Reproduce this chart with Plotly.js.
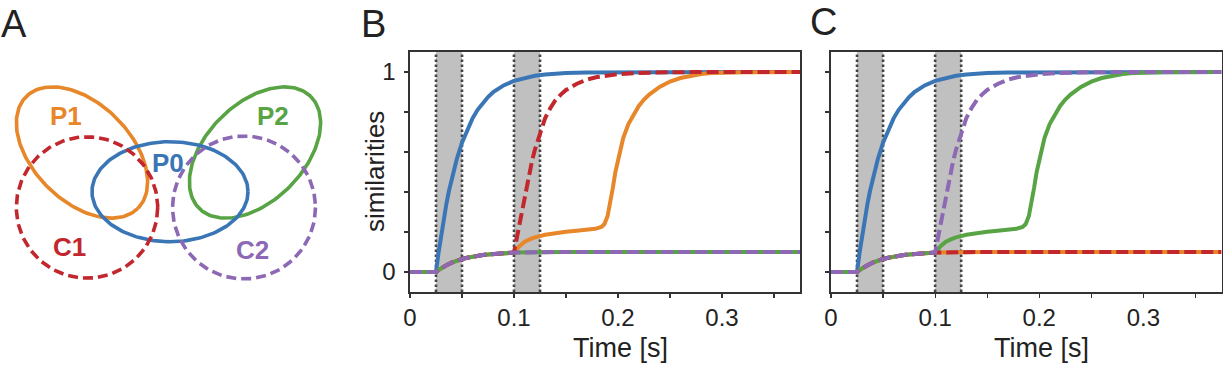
<!DOCTYPE html>
<html>
<head>
<meta charset="utf-8">
<script src="https://cdn.plot.ly/plotly-3.0.1.min.js"></script>
<style>html,body{margin:0;padding:0;background:#fff;}#chart{width:1226px;height:370px;}</style>
</head>
<body>
<div id="chart"></div>
<script>
// ---- data ----
const T_BLUE = [0,0.025,0.0275,0.03,0.0325,0.035,0.0375,0.04,0.045,0.05,0.055,0.06,0.065,0.07,0.075,0.08,0.09,0.1,0.11,0.12,0.13,0.14,0.15,0.17,0.2,0.25,0.375];
const V_BLUE = [0,0,0.099,0.188,0.268,0.341,0.406,0.465,0.565,0.647,0.713,0.767,0.811,0.847,0.875,0.899,0.933,0.956,0.971,0.981,0.987,0.992,0.995,0.998,0.999,1,1];

const T_BASE = [0,0.025,0.0275,0.03,0.035,0.04,0.045,0.05,0.055,0.06,0.065,0.07,0.075,0.08,0.09,0.1,0.12,0.15,0.375];
const V_BASE = [0,0,0.010,0.019,0.034,0.047,0.057,0.065,0.071,0.077,0.081,0.085,0.088,0.090,0.094,0.097,0.099,0.1,0.1];

const T_FAST = [0.1,0.1025,0.105,0.1075,0.11,0.1125,0.115,0.1175,0.12,0.125,0.13,0.135,0.14,0.145,0.15,0.16,0.17,0.18,0.19,0.2,0.22,0.25,0.3,0.375];
const V_FAST = [0.097,0.165,0.235,0.305,0.37,0.44,0.505,0.56,0.61,0.695,0.77,0.82,0.86,0.887,0.91,0.94,0.962,0.975,0.983,0.989,0.995,0.999,1,1];

const T_SLOW = [0.1,0.105,0.11,0.115,0.12,0.13,0.14,0.15,0.16,0.17,0.178,0.184,0.187,0.19,0.1925,0.195,0.1975,0.2,0.2025,0.205,0.21,0.215,0.22,0.225,0.23,0.24,0.25,0.26,0.27,0.28,0.29,0.3,0.32,0.375];
const V_SLOW = [0.097,0.128,0.15,0.163,0.173,0.186,0.195,0.201,0.206,0.211,0.216,0.225,0.24,0.28,0.34,0.42,0.5,0.565,0.62,0.67,0.74,0.79,0.83,0.862,0.887,0.925,0.952,0.97,0.982,0.99,0.995,0.997,0.999,1];

const STIM_WINDOWS = [[0.025,0.05],[0.1,0.125]];
const X_TICKS = [0,0.05,0.1,0.15,0.2,0.25,0.3,0.35];
const X_TICKTEXT = ['0','','0.1','','0.2','','0.3',''];
const Y_TICKS = [0,0.2,0.4,0.6,0.8,1];
const Y_TICKTEXT = ['0','','','','','1'];

const COL = {blue:'#3a76b6', orange:'#e8862a', green:'#58a445', red:'#c1272d', purple:'#8d68b4'};

// Panel A diagram (pixel-space geometry)
const SETS = [
  {name:'P1', cx:82,  cy:152.5, rx:79, ry:48.7, ang:45,  color:COL.orange, dash:'solid', lx:66,  ly:116},
  {name:'P2', cx:255, cy:152.5, rx:79, ry:48.7, ang:-45, color:COL.green,  dash:'solid', lx:273, ly:116},
  {name:'P0', cx:170, cy:191.7, rx:78, ry:50,   ang:0,   color:COL.blue,   dash:'solid', lx:168, ly:163},
  {name:'C1', cx:87,  cy:207.5, rx:70.7, ry:70.7, ang:0, color:COL.red,    dash:'10px,5px', lx:69, ly:247},
  {name:'C2', cx:244, cy:207.5, rx:71.5, ry:71.5, ang:0, color:COL.purple, dash:'10px,5px', lx:252, ly:250}
];

// ---- build ----
function cat(t1,v1,t2,v2){ // base until 0.1 then second series
  const tx=[],vx=[];
  for(let i=0;i<t1.length;i++){ if(t1[i]<0.1){tx.push(t1[i]);vx.push(v1[i]);} }
  return {x:tx.concat(t2), y:vx.concat(v2)};
}
const FAST = cat(T_BASE,V_BASE,T_FAST,V_FAST);
const SLOW = cat(T_BASE,V_BASE,T_SLOW,V_SLOW);
const LW = 4;
const DASH = '12px,5px';

function panel(xa, ya, seq){
  return seq.map(s => ({
    type:'scatter', mode:'lines', x:s.d.x, y:s.d.y, xaxis:xa, yaxis:ya,
    line:{color:s.c, width:LW, dash:s.dash||'solid'}, hoverinfo:'skip', showlegend:false
  }));
}
const base = {x:T_BASE, y:V_BASE};
const blue = {x:T_BLUE, y:V_BLUE};
let traces = [];
traces = traces.concat(panel('x','y',[
  {d:blue,c:COL.blue},{d:SLOW,c:COL.orange},{d:base,c:COL.green},
  {d:FAST,c:COL.red,dash:DASH},{d:base,c:COL.purple,dash:DASH}]));
traces = traces.concat(panel('x2','y2',[
  {d:blue,c:COL.blue},{d:base,c:COL.orange},{d:SLOW,c:COL.green},
  {d:base,c:COL.red,dash:DASH},{d:FAST,c:COL.purple,dash:DASH}]));

SETS.forEach(s=>{
  const xs=[],ys=[]; const a=s.ang*Math.PI/180;
  for(let k=0;k<=180;k++){
    const th=2*Math.PI*k/180;
    const ex=s.rx*Math.cos(th), ey=s.ry*Math.sin(th);
    xs.push(s.cx+ex*Math.cos(a)-ey*Math.sin(a));
    ys.push(s.cy+ex*Math.sin(a)+ey*Math.cos(a));
  }
  traces.push({type:'scatter',mode:'lines',x:xs,y:ys,xaxis:'x3',yaxis:'y3',
    line:{color:s.color,width:3.6,dash:s.dash},hoverinfo:'skip',showlegend:false});
});

const shapes=[];
[['x','y'],['x2','y2']].forEach(([xr,yr])=>{
  STIM_WINDOWS.forEach(w=>{
    shapes.push({type:'rect',xref:xr,yref:yr+' domain',x0:w[0],x1:w[1],y0:0,y1:1,
      fillcolor:'#c0c0c0',line:{width:0},layer:'below'});
  });
  STIM_WINDOWS.forEach(w=>{
    w.forEach(xv=>shapes.push({type:'line',xref:xr,yref:yr+' domain',x0:xv,x1:xv,y0:0,y1:1,
      line:{color:'#444444',width:2.6,dash:'2.5px,2.5px'},layer:'below'}));
  });
});

const W=1226,H=370;
const px = v=>v/W, py = v=>1-v/H;
const FONT='Liberation Sans, Arial, Helvetica, sans-serif';
function xaxisDef(d0,d1,anchor){
  return {domain:[px(d0),px(d1)],anchor:anchor,range:[0,0.375],tickvals:X_TICKS,ticktext:X_TICKTEXT,
    ticks:'outside',ticklen:4,tickwidth:1.2,tickcolor:'#333',showline:true,mirror:true,linecolor:'#333',linewidth:1.6,
    showgrid:false,zeroline:false,tickfont:{family:FONT,size:24,color:'#222'}};
}
function yaxisDef(anchor,labels){
  return {domain:[py(292),py(52)],anchor:anchor,range:[-0.1,1.1],tickvals:Y_TICKS,ticktext:labels?Y_TICKTEXT:['','','','','',''],
    ticks:'outside',ticklen:4,tickwidth:1.2,tickcolor:'#333',showline:true,mirror:true,linecolor:'#333',linewidth:1.6,
    showgrid:false,zeroline:false,tickfont:{family:FONT,size:24,color:'#222'},ticklabelstandoff:4};
}

const ann=[];
function pa(text,x,y,size,extra){
  ann.push(Object.assign({text:text,xref:'paper',yref:'paper',x:px(x),y:py(y),xanchor:'center',yanchor:'middle',
    showarrow:false,font:{family:FONT,size:size,color:'#222'}},extra||{}));
}
pa('A',14,24,38); pa('B',373,24,38); pa('C',823,22,38);
pa('Time [s]',620,348,27); pa('Time [s]',1041,348,27);
pa('similarities',375,172,26,{textangle:-90});
SETS.forEach(s=>{
  ann.push({text:s.name,xref:'x3',yref:'y3',x:s.lx,y:s.ly,xanchor:'center',yanchor:'middle',showarrow:false,
    font:{family:FONT,size:26,weight:'bold',color:s.color}});
});

const layout={
  width:W,height:H,margin:{l:0,r:0,t:0,b:0},paper_bgcolor:'#fff',plot_bgcolor:'rgba(0,0,0,0)',
  showlegend:false,
  xaxis:xaxisDef(410,800,'y'), yaxis:yaxisDef('x',true),
  xaxis2:xaxisDef(831,1221.5,'y2'), yaxis2:yaxisDef('x2',false),
  xaxis3:{domain:[0,px(340)],range:[0,340],visible:false,anchor:'y3',fixedrange:true},
  yaxis3:{domain:[0,1],range:[370,0],visible:false,anchor:'x3',fixedrange:true},
  shapes:shapes, annotations:ann
};
Plotly.newPlot('chart',traces,layout,{staticPlot:true,displayModeBar:false});
</script>
</body>
</html>
